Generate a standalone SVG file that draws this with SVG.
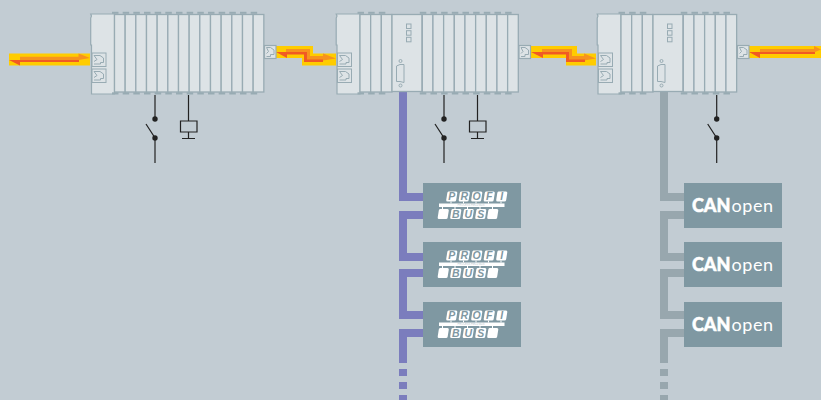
<svg xmlns="http://www.w3.org/2000/svg" width="821" height="400" viewBox="0 0 821 400">
<style>
.b{fill:#dde3e6;stroke:#98abb3;stroke-width:1.2}
.m{fill:#dde3e6;stroke:#98abb3;stroke-width:1.3}
.t{fill:#98abb3}
.p{fill:none;stroke:#98abb3;stroke-width:1}
.w{fill:none;stroke:#222;stroke-width:1.2}
.d{fill:#222}
.box{fill:#7f98a2}
.bus{fill:none;stroke-width:8}
.pb{stroke:#7b7dbd}
.cb{stroke:#98a7ae}
.y{fill:#ffcc00}
.o{fill:#f7931e}
.r{fill:#f15a24}
.lt{font:italic bold 10.5px "Liberation Sans",Arial,sans-serif;fill:#7f98a2;text-anchor:middle}
.sm{font:2.6px "Liberation Sans",Arial,sans-serif;fill:#b9c6cc;text-anchor:middle}
.can{font:900 18px Lato,"Liberation Sans",sans-serif;fill:#fff;stroke:#fff;stroke-width:.5}
.op{font:400 18px Lato,"Liberation Sans",sans-serif;fill:#fff;letter-spacing:.6px}
</style>
<defs>
<g id="mod"><rect class="m" x="0" y="14.500" width="10.670" height="77.500"/><rect class="t" x="-2.500" y="11.800" width="6.500" height="2"/><rect class="t" x="-2.500" y="92.300" width="6.500" height="2.200"/></g>
<g id="port"><rect class="p" width="14" height="13.500"/><path class="p" d="M2 2.500H8L11.500 5V9.500H8.500V11H2M2 2.500L5 6.500L2 8.500"/></g>
<g id="head"><path class="b" d="M90.700 14H114.500V94H91.500V45H90.700V18L91.500 16Z"/><use href="#port" x="92" y="53"/><use href="#port" x="92" y="69"/></g>
<g id="cpu"><rect class="m" x="0" y="14.500" width="30" height="77"/><rect class="p" x="14.500" y="24" width="4.500" height="4.500"/><rect class="p" x="14.500" y="30.700" width="4.500" height="4.500"/><rect class="p" x="14.500" y="37.300" width="4.500" height="4.500"/><circle class="p" cx="8.500" cy="61" r="1.500"/><circle class="p" cx="8.500" cy="85.500" r="1.500"/><path class="p" d="M4.500 66L8 64.500H12V82.500L8 81.500H4.500Z"/></g>
<path id="sw" class="w" d="M0 95V119M-9 124L0 138V163"/>
<g id="swd"><use href="#sw"/><circle class="d" cx="0" cy="119" r="2.700"/><circle class="d" cx="0" cy="138" r="2.700"/></g>
<path id="rel" class="w" d="M0 95V121M-8 121H8.500V132H-8ZM0 132V138.500M-6.500 138.500H6.500"/>
<g id="conn"><rect class="b" x="0" y="45.500" width="11.500" height="13"/><path class="p" d="M2 47.500H6L9.500 50V54.500H6V56.500H2M2 47.500L4 51.500L2 53.500"/></g>
<rect id="sbox" class="box" width="98" height="45"/>
<path id="key" fill="#fff" d="M2.500 0H10Q11.500 0 11.300 1.500L10.200 8.500Q10 10 8.500 10H1.500Q0 10 .200 8.500L1.300 1.500Q1.500 0 2.500 0Z"/>
<g id="pbmark">
<use href="#key" x="23" y="8.500"/><use href="#key" x="35.500" y="8.500"/><use href="#key" x="48" y="8.500"/><use href="#key" x="60.500" y="8.500"/><use href="#key" x="73" y="8.500"/>
<rect x="16" y="20.500" width="65.500" height="3.500" fill="#fff"/>
<path stroke="#fff" stroke-width="1" d="M28 18.500V20.500M40.500 18.500V20.500M53 18.500V20.500M65.500 18.500V20.500M78 18.500V20.500M19.500 24V26M32 24V26M44.500 24V26M57 24V26M69.500 24V26"/>
<use href="#key" x="14.500" y="26"/><use href="#key" x="27" y="26"/><use href="#key" x="39.500" y="26"/><use href="#key" x="52" y="26"/><use href="#key" x="64" y="26"/>
</g>
</defs>
<rect width="821" height="400" fill="#c2ccd3"/>
<g id="connectors">
<g id="cables">
<rect class="y" x="9" y="53.500" width="81" height="12"/>
<path class="o" d="M20 56.700H78.500V53.500L90 58L78.500 60H20Z"/>
<path class="r" d="M9 60H79V62H20V65.500Z"/>
<path class="y" d="M276 46H313V53.500H336V65.500H302V58H276Z"/>
<path class="o" d="M286 49H310V56H323V53.500L336 58.500L323 60.500H305V52.500H286Z"/>
<path class="r" d="M276 52H307V59.500H323V62H304V54.500H287V58Z"/>
<path class="y" d="M531 46H577V53.500H596V65.500H566V58H531Z"/>
<path class="o" d="M542 49H572V56H584V53.500L596 58.500L584 60.500H567V52.500H542Z"/>
<path class="r" d="M531 52H569V59.500H585V62H566V54.500H543V58Z"/>
<rect class="y" x="749" y="46" width="72" height="12"/>
<path class="o" d="M760 49H814V46L821 49.500L814 52.500H760Z"/>
<path class="r" d="M749 52H815V54H760V58Z"/>
</g>
<g id="profibus-line" class="bus pb">
<path d="M403 92V197H423"/>
<path d="M423 215H403V257H423"/>
<path d="M423 273H403V315H423"/>
<path d="M423 333H403V363"/>
<path d="M399 369h8v7h-8zM399 382h8v7h-8zM399 395h8v5h-8z" fill="#7b7dbd" stroke="none"/>
</g>
<g id="canopen-line" class="bus cb">
<path d="M664 92V197H684"/>
<path d="M684 215H664V257H684"/>
<path d="M684 273H664V315H684"/>
<path d="M684 333H664V363"/>
<path d="M660 369h8v7h-8zM660 382h8v7h-8zM660 395h8v5h-8z" fill="#98a7ae" stroke="none"/>
</g>
</g>
<g id="device1">
<use href="#head"/>
<use href="#mod" x="114.500"/><use href="#mod" x="125.170"/><use href="#mod" x="135.830"/><use href="#mod" x="146.500"/><use href="#mod" x="157.170"/><use href="#mod" x="167.830"/><use href="#mod" x="178.500"/><use href="#mod" x="189.170"/><use href="#mod" x="199.830"/><use href="#mod" x="210.500"/><use href="#mod" x="221.170"/><use href="#mod" x="231.830"/><use href="#mod" x="242.500"/><use href="#mod" x="253.170"/>
<use href="#conn" x="264.500"/>
<use href="#swd" x="155"/><use href="#rel" x="188.500"/>
</g>
<g id="device2">
<use href="#head" x="245.500"/>
<use href="#mod" x="360"/><use href="#mod" x="370.670"/><use href="#mod" x="381.330"/><use href="#cpu" x="392"/>
<use href="#mod" x="422.300"/><use href="#mod" x="432.970"/><use href="#mod" x="443.630"/><use href="#mod" x="454.300"/><use href="#mod" x="464.970"/><use href="#mod" x="475.630"/><use href="#mod" x="486.300"/><use href="#mod" x="496.970"/><use href="#mod" x="507.630"/>
<use href="#conn" x="519"/>
<use href="#swd" x="444"/><use href="#rel" x="477.500"/>
</g>
<g id="device3">
<use href="#head" x="506.500"/>
<use href="#mod" x="621"/><use href="#mod" x="631.670"/><use href="#mod" x="642.330"/><use href="#cpu" x="653"/>
<use href="#mod" x="683.300"/><use href="#mod" x="693.970"/><use href="#mod" x="704.630"/><use href="#mod" x="715.300"/><use href="#mod" x="725.970"/>
<use href="#conn" x="737.500"/>
<use href="#swd" x="716.700"/>
</g>
<g id="profibus1" transform="translate(423 183)">
<use href="#sbox"/><use href="#pbmark"/>
<text class="lt" x="28.700" y="17.300">P</text><text class="lt" x="41.200" y="17.300">R</text><text class="lt" x="53.700" y="17.300">O</text><text class="lt" x="66.200" y="17.300">F</text><text class="lt" x="78.700" y="17.300">I</text>
<text class="sm" x="48" y="23.200">PROCESS FIELD BUS</text>
<text class="lt" x="32.700" y="34.800">B</text><text class="lt" x="45.200" y="34.800">U</text><text class="lt" x="57.700" y="34.800">S</text>
</g>
<g id="profibus2" transform="translate(423 242)">
<use href="#sbox"/><use href="#pbmark"/>
<text class="lt" x="28.700" y="17.300">P</text><text class="lt" x="41.200" y="17.300">R</text><text class="lt" x="53.700" y="17.300">O</text><text class="lt" x="66.200" y="17.300">F</text><text class="lt" x="78.700" y="17.300">I</text>
<text class="sm" x="48" y="23.200">PROCESS FIELD BUS</text>
<text class="lt" x="32.700" y="34.800">B</text><text class="lt" x="45.200" y="34.800">U</text><text class="lt" x="57.700" y="34.800">S</text>
</g>
<g id="profibus3" transform="translate(423 302)">
<use href="#sbox"/><use href="#pbmark"/>
<text class="lt" x="28.700" y="17.300">P</text><text class="lt" x="41.200" y="17.300">R</text><text class="lt" x="53.700" y="17.300">O</text><text class="lt" x="66.200" y="17.300">F</text><text class="lt" x="78.700" y="17.300">I</text>
<text class="sm" x="48" y="23.200">PROCESS FIELD BUS</text>
<text class="lt" x="32.700" y="34.800">B</text><text class="lt" x="45.200" y="34.800">U</text><text class="lt" x="57.700" y="34.800">S</text>
</g>
<g id="canopen1" transform="translate(684 183)">
<use href="#sbox"/>
<text x="8" y="29"><tspan class="can">CAN</tspan><tspan class="op" dx="1">open</tspan></text>
</g>
<g id="canopen2" transform="translate(684 242)">
<use href="#sbox"/>
<text x="8" y="29"><tspan class="can">CAN</tspan><tspan class="op" dx="1">open</tspan></text>
</g>
<g id="canopen3" transform="translate(684 302)">
<use href="#sbox"/>
<text x="8" y="29"><tspan class="can">CAN</tspan><tspan class="op" dx="1">open</tspan></text>
</g>
</svg>
